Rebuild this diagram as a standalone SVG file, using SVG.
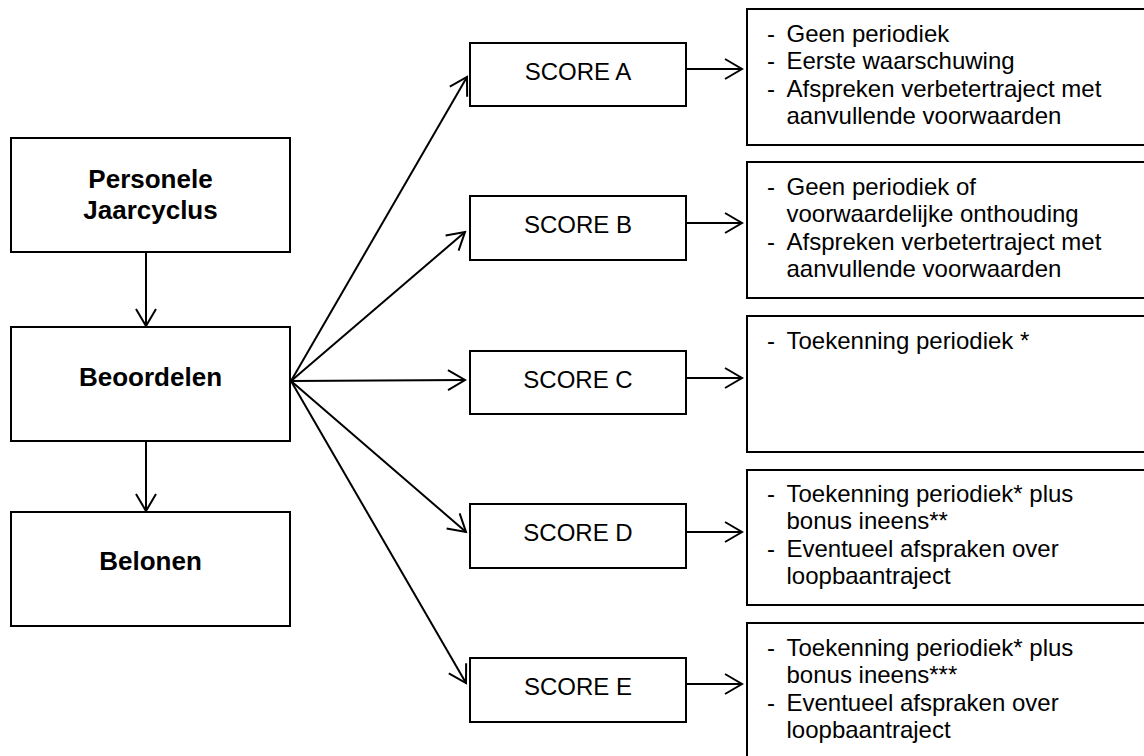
<svg xmlns="http://www.w3.org/2000/svg" width="1144" height="756" viewBox="0 0 1144 756">
<style>
.box{fill:#fff;stroke:#000;stroke-width:2}
.bt{font-family:"Liberation Sans",Arial,sans-serif;font-weight:bold;font-size:26px;text-anchor:middle;fill:#000}
.st{font-family:"Liberation Sans",Arial,sans-serif;font-size:24px;text-anchor:middle;fill:#000}
.rt{font-family:"Liberation Sans",Arial,sans-serif;font-size:24px;fill:#000}
.c{stroke:#000;stroke-width:2;fill:none;marker-end:url(#ah)}
</style>
<defs>
<marker id="ah" markerUnits="userSpaceOnUse" viewBox="-20 -12 22 24" refX="0" refY="0" markerWidth="22" markerHeight="24" orient="auto" overflow="visible">
<path d="M-17,-10 L0,0 L-17,10" fill="none" stroke="#000" stroke-width="2"/>
</marker>
</defs>
<rect width="1144" height="756" fill="#fff"/>
<g id="personele"><rect class="box" x="11" y="138" width="279" height="114"/><text class="bt" x="150.5" y="188">Personele</text><text class="bt" x="150.5" y="219">Jaarcyclus</text></g>
<g id="beoordelen"><rect class="box" x="11" y="327" width="279" height="114"/><text class="bt" x="150.5" y="386">Beoordelen</text></g>
<g id="belonen"><rect class="box" x="11" y="512" width="279" height="114"/><text class="bt" x="150.5" y="570">Belonen</text></g>
<g id="scoreA"><rect class="box" x="470" y="43" width="216" height="63"/><text class="st" x="578" y="79.5">SCORE A</text></g>
<g id="scoreB"><rect class="box" x="470" y="196" width="216" height="64"/><text class="st" x="578" y="233">SCORE B</text></g>
<g id="scoreC"><rect class="box" x="470" y="351" width="216" height="63"/><text class="st" x="578" y="388">SCORE C</text></g>
<g id="scoreD"><rect class="box" x="470" y="504" width="216" height="64"/><text class="st" x="578" y="541">SCORE D</text></g>
<g id="scoreE"><rect class="box" x="470" y="658" width="216" height="64"/><text class="st" x="578" y="695">SCORE E</text></g>
<g id="resultA"><rect class="box" x="747" y="9" width="420" height="136"/>
<text class="rt" x="767" y="41.7">-</text><text class="rt" x="786.5" y="41.7">Geen periodiek</text>
<text class="rt" x="767" y="69.1">-</text><text class="rt" x="786.5" y="69.1">Eerste waarschuwing</text>
<text class="rt" x="767" y="96.5">-</text><text class="rt" x="786.5" y="96.5">Afspreken verbetertraject met</text>
<text class="rt" x="786.5" y="124">aanvullende voorwaarden</text></g>
<g id="resultB"><rect class="box" x="747" y="162" width="420" height="136"/>
<text class="rt" x="767" y="195">-</text><text class="rt" x="786.5" y="195">Geen periodiek of</text>
<text class="rt" x="786.5" y="222.4">voorwaardelijke onthouding</text>
<text class="rt" x="767" y="249.8">-</text><text class="rt" x="786.5" y="249.8">Afspreken verbetertraject met</text>
<text class="rt" x="786.5" y="277.2">aanvullende voorwaarden</text></g>
<g id="resultC"><rect class="box" x="747" y="316" width="420" height="136"/>
<text class="rt" x="767" y="348.5">-</text><text class="rt" x="786.5" y="348.5">Toekenning periodiek *</text></g>
<g id="resultD"><rect class="box" x="747" y="470" width="420" height="135"/>
<text class="rt" x="767" y="502">-</text><text class="rt" x="786.5" y="502">Toekenning periodiek* plus</text>
<text class="rt" x="786.5" y="529">bonus ineens**</text>
<text class="rt" x="767" y="556.5">-</text><text class="rt" x="786.5" y="556.5">Eventueel afspraken over</text>
<text class="rt" x="786.5" y="583.5">loopbaantraject</text></g>
<g id="resultE"><rect class="box" x="747" y="623" width="420" height="140"/>
<text class="rt" x="767" y="656">-</text><text class="rt" x="786.5" y="656">Toekenning periodiek* plus</text>
<text class="rt" x="786.5" y="683">bonus ineens***</text>
<text class="rt" x="767" y="710.5">-</text><text class="rt" x="786.5" y="710.5">Eventueel afspraken over</text>
<text class="rt" x="786.5" y="737.5">loopbaantraject</text></g>
<g id="connectors">
<line class="c" x1="146" y1="252" x2="146" y2="326"/>
<line class="c" x1="146" y1="441" x2="146" y2="511"/>
<line class="c" x1="291" y1="381" x2="467" y2="77"/>
<line class="c" x1="291" y1="381" x2="465" y2="232"/>
<line class="c" x1="291" y1="381" x2="465" y2="380"/>
<line class="c" x1="291" y1="381" x2="466" y2="532"/>
<line class="c" x1="291" y1="381" x2="466" y2="683"/>
<line class="c" x1="686" y1="69" x2="742" y2="69"/>
<line class="c" x1="686" y1="223" x2="742" y2="223"/>
<line class="c" x1="686" y1="378" x2="742" y2="378"/>
<line class="c" x1="686" y1="532" x2="742" y2="532"/>
<line class="c" x1="686" y1="684" x2="742" y2="684"/>
</g>
</svg>
